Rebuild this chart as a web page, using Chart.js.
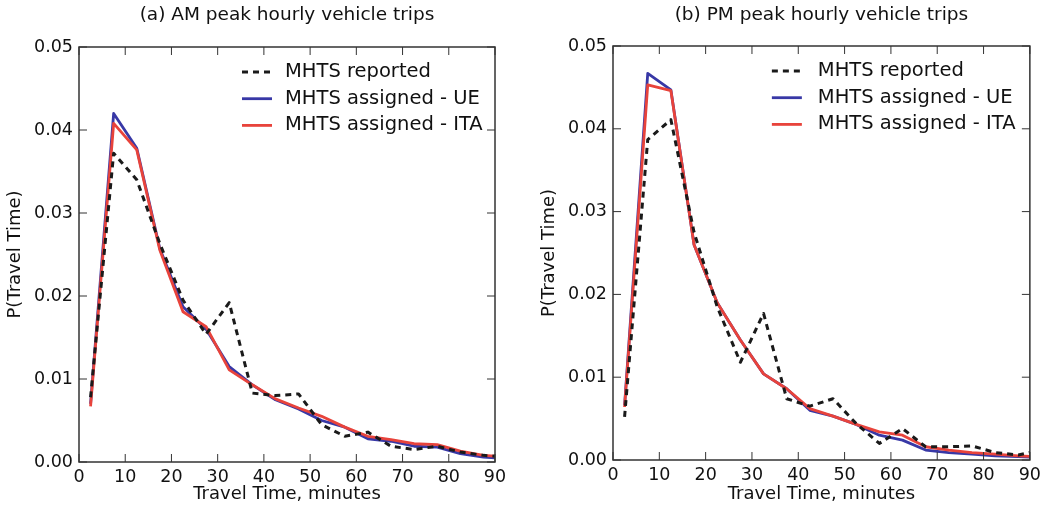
<!DOCTYPE html>
<html>
<head>
<meta charset="utf-8">
<script src="https://cdn.jsdelivr.net/npm/chart.js@4.4.1/dist/chart.umd.min.js"></script>
<style>
  body { margin: 0; background: #fff; }
  #wrap { position: relative; width: 1046px; height: 508px; }
  canvas { position: absolute; top: 0; }
</style>
</head>
<body>
<div id="wrap">
  <canvas id="amChart" width="523" height="508" style="left:0"></canvas>
  <canvas id="pmChart" width="523" height="508" style="left:523px"></canvas>
</div>
<script>
// bin centres (minutes)
let minutes = [2.5, 7.5, 12.5, 17.5, 22.5, 27.5, 32.5, 37.5, 42.5, 47.5, 52.5, 57.5, 62.5, 67.5, 72.5, 77.5, 82.5, 87.5, 92.5];

let amReported = [0.0078, 0.0372, 0.0340, 0.0263, 0.0195, 0.0154, 0.0192, 0.0083, 0.0080, 0.0082, 0.0045, 0.0031, 0.0036, 0.0019, 0.0015, 0.0019, 0.0012, 0.0008, 0.0006];
let amUE = [0.0070, 0.0420, 0.0378, 0.0257, 0.0187, 0.0160, 0.0115, 0.0093, 0.0075, 0.0064, 0.0050, 0.0042, 0.0028, 0.0025, 0.0019, 0.0018, 0.0010, 0.0006, 0.0004];
let amITA = [0.0067, 0.0408, 0.0376, 0.0255, 0.0181, 0.0163, 0.0111, 0.0093, 0.0076, 0.0065, 0.0055, 0.0042, 0.0031, 0.0027, 0.0022, 0.0021, 0.0013, 0.0008, 0.0006];

let pmReported = [0.0052, 0.0387, 0.0411, 0.0275, 0.0185, 0.0118, 0.0177, 0.0074, 0.0065, 0.0074, 0.0044, 0.0020, 0.0038, 0.0016, 0.0016, 0.0017, 0.0009, 0.0006, 0.0012];
let pmUE = [0.0066, 0.0467, 0.0447, 0.0260, 0.0190, 0.0145, 0.0104, 0.0086, 0.0060, 0.0053, 0.0043, 0.0030, 0.0024, 0.0012, 0.0009, 0.0007, 0.0005, 0.0004, 0.0003];
let pmITA = [0.0064, 0.0453, 0.0446, 0.0260, 0.0190, 0.0145, 0.0104, 0.0086, 0.0062, 0.0053, 0.0043, 0.0034, 0.0030, 0.0016, 0.0012, 0.0009, 0.0007, 0.0005, 0.0004];

let seriesLabels = ['MHTS reported', 'MHTS assigned - UE', 'MHTS assigned - ITA'];
let seriesColors = ['#1a1a1a', '#3838a6', '#e8433b'];
// draw order: dashed on top, then red, then blue underneath
let seriesOrder = [0, 2, 1];
let xTicks = [0, 10, 20, 30, 40, 50, 60, 70, 80, 90];
let yTicks = [0, 0.01, 0.02, 0.03, 0.04, 0.05];

let font = '"DejaVu Sans", sans-serif';

// box around the plot with short inward ticks on all four sides
let frameTicks = {
  id: 'frameTicks',
  afterDatasetsDraw(chart) {
    let ctx = chart.ctx;
    let a = chart.chartArea;
    let xs = chart.scales.x, ys = chart.scales.y;
    let len = 8;
    ctx.save();
    ctx.strokeStyle = '#333';
    ctx.lineWidth = 1.5;
    ctx.strokeRect(a.left, a.top, a.right - a.left, a.bottom - a.top);
    ctx.lineWidth = 1;
    ctx.beginPath();
    xs.ticks.forEach(t => {
      let px = xs.getPixelForValue(t.value);
      ctx.moveTo(px, a.bottom); ctx.lineTo(px, a.bottom - len);
      ctx.moveTo(px, a.top); ctx.lineTo(px, a.top + len);
    });
    ys.ticks.forEach(t => {
      let py = ys.getPixelForValue(t.value);
      ctx.moveTo(a.left, py); ctx.lineTo(a.left + len, py);
      ctx.moveTo(a.right, py); ctx.lineTo(a.right - len, py);
    });
    ctx.stroke();
    ctx.restore();
  }
};

// legend drawn inside the top-right corner of the plot
let insideLegend = {
  id: 'insideLegend',
  afterDraw(chart, args, opts) {
    let ctx = chart.ctx;
    let a = chart.chartArea;
    let x0 = a.right - opts.fromRight;
    chart.data.datasets.forEach((ds, i) => {
      let y = a.top + opts.top + i * opts.spacing;
      ctx.save();
      ctx.strokeStyle = ds.borderColor;
      ctx.lineWidth = ds.borderWidth;
      ctx.setLineDash(ds.borderDash || []);
      ctx.beginPath();
      ctx.moveTo(x0, y);
      ctx.lineTo(x0 + 30, y);
      ctx.stroke();
      ctx.setLineDash([]);
      ctx.fillStyle = '#111';
      ctx.font = '19.5px ' + font;
      ctx.textBaseline = 'middle';
      ctx.fillText(ds.label, x0 + opts.gap, y);
      ctx.restore();
    });
  }
};

function makeChart(id, title, reported, ue, ita, box) {
  let series = [reported, ue, ita];
  let datasets = series.map((vals, i) => ({
    label: seriesLabels[i],
    data: vals.map((v, k) => ({ x: minutes[k], y: v })),
    borderColor: seriesColors[i],
    borderWidth: i === 0 ? 3 : 2.8,
    borderDash: i === 0 ? [6, 5] : [],
    borderJoinStyle: 'round',
    pointRadius: 0,
    tension: 0,
    clip: 0,
    order: seriesOrder[i]
  }));

  return new Chart(document.getElementById(id), {
    type: 'line',
    data: { datasets: datasets },
    options: {
      responsive: false,
      animation: false,
      devicePixelRatio: 1,
      layout: { padding: { left: box.padLeft, right: box.padRight, top: 0, bottom: 0 } },
      plugins: {
        legend: { display: false },
        tooltip: { enabled: false },
        title: {
          display: true,
          text: title,
          fullSize: false,
          color: '#111',
          font: { family: font, size: 18.5, weight: 'normal' },
          padding: { top: 4, bottom: box.top - 4 - 22.2 }
        },
        insideLegend: box.legend
      },
      scales: {
        x: {
          type: 'linear',
          min: 0,
          max: 90,
          afterBuildTicks: s => { s.ticks = xTicks.map(v => ({ value: v })); },
          afterFit: s => { s.height = box.xHeight; },
          grid: { display: false, drawTicks: false },
          border: { display: false },
          ticks: { color: '#111', padding: 5, font: { family: font, size: 17.5 }, maxRotation: 0 },
          title: { display: true, text: 'Travel Time, minutes', color: '#111', padding: { top: 0, bottom: 3 }, font: { family: font, size: 18 } }
        },
        y: {
          min: 0,
          max: 0.05,
          afterBuildTicks: s => { s.ticks = yTicks.map(v => ({ value: v })); },
          afterFit: s => { s.width = 79; },
          grid: { display: false, drawTicks: false },
          border: { display: false },
          ticks: { color: '#111', padding: 6, font: { family: font, size: 17.5 }, callback: v => v.toFixed(2) },
          title: { display: true, text: 'P(Travel Time)', color: '#111', padding: { top: 5, bottom: 0 }, font: { family: font, size: 18 } }
        }
      }
    },
    plugins: [frameTicks, insideLegend]
  });
}

makeChart('amChart', '(a) AM peak hourly vehicle trips', amReported, amUE, amITA, {
  padLeft: 0, padRight: 28, top: 47, xHeight: 46,
  legend: { fromRight: 253, top: 25, spacing: 26.7, gap: 43 }
});
makeChart('pmChart', '(b) PM peak hourly vehicle trips', pmReported, pmUE, pmITA, {
  padLeft: 11, padRight: 13, top: 46, xHeight: 48,
  legend: { fromRight: 258, top: 25, spacing: 26.7, gap: 46 }
});
</script>
</body>
</html>
